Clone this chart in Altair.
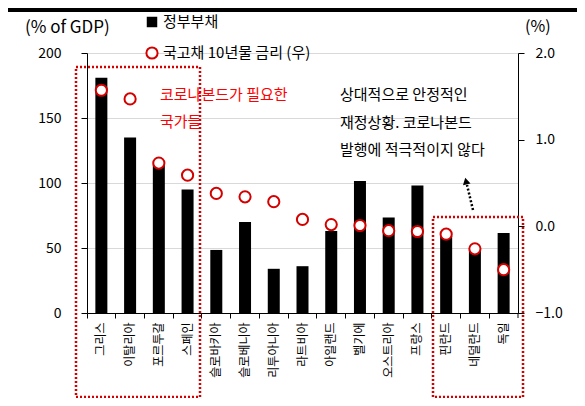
import altair as alt
import pandas as pd

countries = ["그리스", "이탈리아", "포르투갈", "스페인", "슬로바키아", "슬로베니아",
             "리투아니아", "라트비아", "아일랜드", "벨기에", "오스트리아", "프랑스",
             "핀란드", "네덜란드", "독일"]
debt = [181, 135, 115, 95, 48.5, 70, 34, 36, 63, 101.5, 73.5, 98, 59.5, 48.5, 61.5]
yield10 = [1.57, 1.47, 0.73, 0.59, 0.38, 0.34, 0.285, 0.08, 0.02, 0.01, -0.05, -0.06, -0.09, -0.26, -0.50]

left_ticks = [0, 50, 100, 150, 200]
right_ticks = [-1.0, 0.0, 1.0, 2.0]

FONT = "Noto Sans CJK KR"
RED = "#d40000"

df = pd.DataFrame({"country": countries, "debt": debt, "yield": yield10})
one = pd.DataFrame({"k": [0]})

xenc = alt.X("country:N", sort=countries, title=None,
             scale=alt.Scale(paddingInner=0, paddingOuter=0),
             axis=alt.Axis(labelAngle=270, labelFontSize=12, labelFont=FONT,
                           labelColor="black", labelPadding=4, tickSize=5,
                           tickColor="black", domainColor="black",
                           bandPosition=0, grid=False, labelBaseline="middle"))

bars = alt.Chart(df).mark_bar(size=12, color="black").encode(
    x=xenc,
    y=alt.Y("debt:Q", title=None,
            scale=alt.Scale(domain=[0, 200], nice=False),
            axis=alt.Axis(values=left_ticks, labelFontSize=14, labelFont=FONT,
                          labelColor="black", labelPadding=20, tickSize=6,
                          tickColor="black", domainColor="black",
                          grid=True, gridColor="#d9d9d9"))
)

points = alt.Chart(df).mark_point(shape="circle", filled=True, fill="white",
                                  stroke=RED, strokeWidth=2, size=125, opacity=1).encode(
    x=alt.X("country:N", sort=countries),
    y=alt.Y("yield:Q", title=None,
            scale=alt.Scale(domain=[-1, 2], nice=False),
            axis=alt.Axis(orient="right", values=right_ticks, format=".1f",
                          labelFontSize=14, labelFont=FONT, labelColor="black",
                          labelPadding=11, tickSize=6, tickColor="black",
                          domainColor="black", grid=False))
)

base = alt.layer(bars, points).resolve_scale(y="independent")

# decorations (pixel positions relative to the plot origin)
def txt(s, x, y, color="black", size=15, align="left"):
    return alt.Chart(one).mark_text(text=s, font=FONT, fontSize=size, color=color,
                                    align=align, baseline="middle").encode(
        x=alt.value(x), y=alt.value(y))

deco = [
    txt("(% of GDP)", -62, -25, size=17),
    txt("(%)", 438, -26, size=16),
    txt("정부부채", 76, -31),
    txt("국고채 10년물 금리 (우)", 76, 0),
    txt("코로나본드가 필요한", 73, 42, color="#ff0000"),
    txt("국가들", 73, 69, color="#ff0000"),
    txt("상대적으로 안정적인", 253, 42),
    txt("재정상황. 코로나본드", 253, 70),
    txt("발행에 적극적이지 않다", 253, 97),
    alt.Chart(one).mark_square(color="black", size=110, opacity=1).encode(
        x=alt.value(65), y=alt.value(-31)),
    alt.Chart(one).mark_point(shape="circle", filled=True, fill="white", stroke=RED,
                              strokeWidth=2, size=125, opacity=1).encode(
        x=alt.value(65), y=alt.value(0)),
    alt.Chart(one).mark_rect(fill=None, filled=False, stroke=RED, strokeWidth=2.5,
                             strokeDash=[2, 2]).encode(
        x=alt.value(-11), x2=alt.value(113), y=alt.value(14), y2=alt.value(344)),
    alt.Chart(one).mark_rect(fill=None, filled=False, stroke=RED, strokeWidth=2.5,
                             strokeDash=[2, 2]).encode(
        x=alt.value(346), x2=alt.value(436), y=alt.value(164), y2=alt.value(344)),
    alt.Chart(one).mark_rule(color="black", strokeWidth=2.5, strokeDash=[2, 2]).encode(
        x=alt.value(386), y=alt.value(157), x2=alt.value(380), y2=alt.value(132)),
    alt.Chart(one).mark_point(shape="triangle-up", filled=True, color="black",
                              size=60, angle=347, opacity=1).encode(
        x=alt.value(379), y=alt.value(128)),
    alt.Chart(one).mark_rule(color="black", strokeWidth=1).encode(
        x=alt.value(431), y=alt.value(260), y2=alt.value(265)),
    alt.Chart(one).mark_rule(color="black", strokeWidth=4).encode(
        x=alt.value(-79), x2=alt.value(490), y=alt.value(-43)),
]

chart = alt.layer(base, *deco).properties(
    width=431, height=260,
    autosize=alt.AutoSizeParams(type="none"),
    padding={"left": 79, "top": 45, "right": 59, "bottom": 85},
).configure_view(stroke=None)

chart.save("out.html", embed_options={"renderer": "svg", "actions": False})
